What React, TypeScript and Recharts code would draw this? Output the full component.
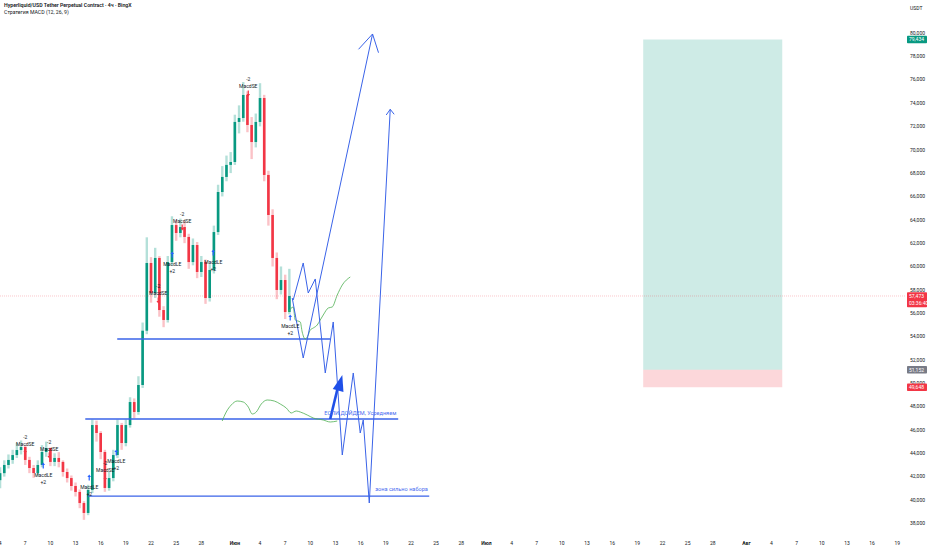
import React from 'react';
import { ComposedChart, XAxis, YAxis, Bar, Line, Scatter, ReferenceLine, ReferenceArea } from 'recharts';

// ---- time axis: x = days since 1 May ----
const candleStart = 3.0;
const candleStep = 0.5;
const firstOpen = 41700;
const closes = [
  42300, 43000, 43430, 43850, 44280, 44540, 43430, 42740, 42310, 43000,
  44110, 44450, 43260, 43600, 43260, 42400, 41880, 41200, 40690, 39740,
  38890, 40860, 46420, 45740, 44110, 41030, 41880, 43850, 46420, 44880,
  46420, 48390, 47540, 49850, 54500, 60300, 57730, 60730, 56270, 55420,
  60380, 63550, 62870, 63380, 62530, 60380, 61840, 59530, 60380, 57300,
  59700, 62950, 66380, 67670, 68700, 68950, 72380, 72720, 74690, 72120,
  70660, 72380, 74430, 67840, 64410, 60730, 57990, 58840, 56100, 57473,
];
const highs = [
  42800, 43400, 43900, 44300, 44900, 45100, 44700, 43700, 43000, 43400,
  44700, 45000, 44500, 44000, 44100, 43400, 42700, 42100, 41500, 40900,
  39900, 41300, 46900, 46800, 45900, 44300, 42400, 44300, 46900, 46600,
  46900, 48800, 48700, 50600, 55200, 62500, 60800, 61600, 60900, 56600,
  60900, 64300, 64000, 64100, 63900, 62800, 62400, 62100, 60900, 60600,
  60200, 63500, 67000, 68600, 69500, 69800, 73000, 73800, 75800, 75000,
  72800, 73100, 75700, 74700, 68200, 64900, 61200, 60000, 59300, 59800,
];
const lows = [
  41000, 42000, 42700, 43100, 43600, 43900, 43000, 42300, 41900, 42100,
  42800, 43700, 42900, 42900, 42800, 42000, 41500, 40800, 40300, 39300,
  38300, 38700, 40600, 45000, 43500, 40700, 40800, 41600, 43600, 44300,
  44600, 46200, 47000, 47300, 49600, 54200, 56900, 57300, 55700, 54800,
  55200, 60100, 62200, 62500, 62000, 59800, 60100, 59000, 59100, 56800,
  57000, 59400, 62700, 66000, 67300, 68000, 68700, 71400, 72400, 71500,
  69200, 70200, 72000, 67300, 63500, 60000, 57200, 57600, 55500, 55900,
];

const candles = closes.map((c, i) => ({
  d: candleStart + i * candleStep,
  open: i === 0 ? firstOpen : closes[i - 1],
  close: c,
  high: highs[i],
  low: lows[i],
}));

// ---- axis ticks ----
const xTickDays = [3, 6, 9, 12, 15, 18, 21, 24, 27, 31, 34, 37, 40, 43, 46, 49, 52, 55, 58, 61, 64, 67, 70, 73, 76, 79, 82, 85, 88, 92, 95, 98, 101, 104, 107, 110];
const xTickLabels = ['4', '7', '10', '13', '16', '19', '22', '25', '28', 'Июн', '4', '7', '10', '13', '16', '19', '22', '25', '28', 'Июл', '4', '7', '10', '13', '16', '19', '22', '25', '28', 'Авг', '4', '7', '10', '13', '16', '19'];
const monthLabels = ['Июн', 'Июл', 'Авг'];
const yTicks = [38000, 40000, 42000, 44000, 46000, 48000, 50000, 52000, 54000, 56000, 58000, 60000, 62000, 64000, 66000, 68000, 70000, 72000, 74000, 76000, 78000, 80000];

// ---- price badges on the axis ----
const currentPrice = 57473;
const takeProfit = 79434;
const entryPrice = 51152;
const stopLoss = 49648;
const countdown = '03:36:40';

// ---- position tool (days) ----
const positionFrom = 79.7;
const positionTo = 96.28;

// ---- strategy signals ----
const signals = [
  { d: 6.0, p: 44280, kind: 'SE' },
  { d: 8.86, p: 43850, kind: 'SE' },
  { d: 8.15, p: 42910, kind: 'LE' },
  { d: 13.63, p: 41880, kind: 'LE' },
  { d: 15.54, p: 41970, kind: 'SE' },
  { d: 16.85, p: 44030, kind: 'LE' },
  { d: 21.86, p: 57130, kind: 'SE' },
  { d: 23.53, p: 60980, kind: 'LE' },
  { d: 24.72, p: 63380, kind: 'SE' },
  { d: 28.42, p: 61150, kind: 'LE' },
  { d: 32.6, p: 74860, kind: 'SE' },
  { d: 37.6, p: 55590, kind: 'LE' },
];

// ---- drawings ----
const levels = [
  { from: 16.97, to: 42.37, p: 53790 },
  { from: 13.16, to: 50.48, p: 46938 },
  { from: 13.51, to: 54.18, p: 40340 },
];
const scenarioA = [
  { d: 37.96, p: 57130 }, { d: 39.15, p: 60300 }, { d: 39.75, p: 57730 }, { d: 40.59, p: 58930 },
  { d: 41.78, p: 50878 }, { d: 42.73, p: 55246 }, { d: 43.81, p: 43854 }, { d: 45.12, p: 50878 },
  { d: 45.95, p: 45739 }, { d: 46.31, p: 46852 }, { d: 47.03, p: 39743 }, { d: 49.53, p: 73463 },
];
const arrowHeadA = [{ d: 49.05, p: 72975 }, { d: 49.53, p: 73463 }, { d: 50.0, p: 73035 }];
const scenarioB = [{ d: 37.84, p: 57301 }, { d: 39.15, p: 52162 }, { d: 47.42, p: 79913 }];
const arrowHeadB = [{ d: 45.75, p: 78603 }, { d: 47.42, p: 79913 }, { d: 48.13, p: 78312 }];
const greenPath1 = [
  { d: 37.37, p: 56102 }, { d: 37.96, p: 56530 }, { d: 38.2, p: 55417 }, { d: 38.8, p: 55246 },
  { d: 39.03, p: 54389 }, { d: 39.39, p: 53790 }, { d: 39.75, p: 54133 }, { d: 39.99, p: 54561 },
  { d: 40.35, p: 54732 }, { d: 40.82, p: 54989 }, { d: 41.18, p: 55417 }, { d: 41.54, p: 55845 },
  { d: 42.14, p: 56445 }, { d: 42.61, p: 56530 }, { d: 43.21, p: 57558 }, { d: 43.81, p: 58415 },
  { d: 44.76, p: 59100 },
];
const greenPath2 = [
  { d: 29.49, p: 46766 }, { d: 29.97, p: 47537 }, { d: 30.57, p: 48137 }, { d: 31.28, p: 48479 },
  { d: 32.0, p: 48394 }, { d: 32.6, p: 47965 }, { d: 33.07, p: 47366 }, { d: 33.55, p: 47537 },
  { d: 34.15, p: 48222 }, { d: 34.86, p: 48565 }, { d: 35.7, p: 48479 }, { d: 36.41, p: 48222 },
  { d: 37.13, p: 47880 }, { d: 37.72, p: 47452 }, { d: 38.32, p: 47623 }, { d: 38.8, p: 47537 },
  { d: 39.63, p: 47280 }, { d: 40.35, p: 47023 }, { d: 41.54, p: 46852 }, { d: 42.37, p: 46681 },
  { d: 43.21, p: 46766 },
];
const boldArrowShaft = [{ d: 42.37, p: 46938 }, { d: 43.3, p: 49700 }];
const boldArrowTip = [{ d: 43.81, p: 50706 }];
const notes = [
  { d: 41.66, p: 47280, text: 'ЕСЛИ ДОЙДЕМ, Усредняем' },
  { d: 47.74, p: 40771, text: 'зона сильно набора' },
];

const BLUE = '#3a63e8';
const UP = '#089981';
const DOWN = '#f23645';
const TXT = '#131722';
const FONT = 'Roboto, "Noto Sans", sans-serif';

const Candle = (props: any) => {
  const { x, y, width, height, payload } = props;
  if (x == null || y == null) return null;
  const { open, close, high, low } = payload;
  const ratio = high === low ? 0 : height / (high - low);
  const yo = y + (high - open) * ratio;
  const yc = y + (high - close) * ratio;
  const up = close >= open;
  const col = up ? UP : DOWN;
  const cx = x + width / 2;
  const top = Math.min(yo, yc);
  const h = Math.max(1, Math.abs(yo - yc));
  return (
    <g>
      <line x1={cx} x2={cx} y1={y} y2={y + height} stroke={col} strokeOpacity={0.3} strokeWidth={2.4} />
      <rect x={cx - 1.3} y={top} width={2.6} height={h} fill={col} />
    </g>
  );
};

const SignalShape = (props: any) => {
  const { cx, cy, payload } = props;
  if (cx == null) return null;
  const t = { fontSize: 5, fill: TXT, textAnchor: 'middle' as const, fontFamily: FONT };
  if (payload.kind === 'SE') {
    return (
      <g>
        <text x={cx} y={cy - 11.5} {...t}>-2</text>
        <text x={cx} y={cy - 4.5} {...t}>MacdSE</text>
        <line x1={cx} x2={cx} y1={cy - 2.5} y2={cy + 1.5} stroke={DOWN} strokeWidth={1.2} />
        <path d={`M${cx - 1.8},${cy + 1} L${cx + 1.8},${cy + 1} L${cx},${cy + 3.5} Z`} fill={DOWN} />
      </g>
    );
  }
  return (
    <g>
      <line x1={cx} x2={cx} y1={cy - 1.5} y2={cy + 2.5} stroke="#2962ff" strokeWidth={1.2} />
      <path d={`M${cx - 1.8},${cy - 1} L${cx + 1.8},${cy - 1} L${cx},${cy - 3.5} Z`} fill="#2962ff" />
      <text x={cx} y={cy + 10.5} {...t}>MacdLE</text>
      <text x={cx} y={cy + 17.5} {...t}>+2</text>
    </g>
  );
};

const NoteShape = (props: any) => {
  const { cx, cy, payload } = props;
  if (cx == null) return null;
  return (
    <text x={cx} y={cy} fontSize={5.6} fill="#4a6cf0" fontFamily={FONT}>{payload.text}</text>
  );
};

const TipShape = (props: any) => {
  const { cx, cy } = props;
  if (cx == null) return null;
  return <path d={`M${cx},${cy} L${cx + 1.2},${cy + 17} L${cx - 9.5},${cy + 14} Z`} fill="#1f4fe8" />;
};

const XTick = (props: any) => {
  const { x, y, payload } = props;
  const i = xTickDays.indexOf(payload.value);
  const label = i >= 0 ? xTickLabels[i] : '';
  const bold = monthLabels.includes(label);
  return (
    <text x={x} y={y} dy={4} fontSize={5} fill={TXT} textAnchor="middle" fontWeight={bold ? 700 : 400} fontFamily={FONT}>
      {label}
    </text>
  );
};

const badges: Record<number, { color: string; sub?: string }> = {
  [takeProfit]: { color: UP },
  [currentPrice]: { color: DOWN, sub: countdown },
  [entryPrice]: { color: '#787b86' },
  [stopLoss]: { color: DOWN },
};

const YTick = (props: any) => {
  const { x, y, payload } = props;
  const v = payload.value as number;
  const txt = v.toLocaleString('en-US');
  const b = badges[v];
  if (b) {
    const h = b.sub ? 15 : 7.5;
    return (
      <g>
        <rect x={x - 3} y={y - 3.75} width={20} height={h} fill={b.color} rx={0.8} />
        <text x={x - 1} y={y + 1.8} fontSize={5} fill="#fff" fontFamily={FONT}>{txt}</text>
        {b.sub && <text x={x - 1} y={y + 9} fontSize={5} fill="#fff" fontFamily={FONT}>{b.sub}</text>}
      </g>
    );
  }
  return (
    <text x={x} y={y + 1.8} fontSize={5} fill={TXT} fontFamily={FONT}>{txt}</text>
  );
};

export default function App() {
  return (
    <div style={{ position: 'absolute', left: 0, top: 0, width: 932, height: 550, background: '#fff', fontFamily: FONT }}>
      <div style={{ position: 'absolute', left: 4, top: 2, fontSize: 5.2, color: TXT, lineHeight: '7px', zIndex: 2 }}>
        <div style={{ fontWeight: 600 }}>Hyperliquid/USD Tether Perpetual Contract · 4ч · BingX</div>
        <div>Стратегия MACD (12, 26, 9)</div>
      </div>
      <div style={{ position: 'absolute', left: 910, top: 5, fontSize: 5, color: TXT, zIndex: 2 }}>USDT</div>
      <ComposedChart width={932} height={550} data={candles} margin={{ top: 0, right: 0, bottom: 0, left: 0 }}>
        <XAxis
          dataKey="d"
          type="number"
          domain={[2.99, 110.92]}
          allowDataOverflow
          ticks={xTickDays}
          interval={0}
          tick={<XTick />}
          tickLine={false}
          axisLine={false}
          tickSize={0}
          tickMargin={6}
          height={15}
        />
        <YAxis
          orientation="right"
          type="number"
          domain={[37002, 82825]}
          allowDataOverflow
          ticks={[...yTicks, takeProfit, currentPrice, entryPrice, stopLoss]}
          interval={0}
          tick={<YTick />}
          tickLine={false}
          axisLine={false}
          tickSize={0}
          tickMargin={5}
          width={27}
        />
        <ReferenceArea x1={positionFrom} x2={positionTo} y1={entryPrice} y2={takeProfit} fill="#089981" fillOpacity={0.2} stroke="none" ifOverflow="visible" />
        <ReferenceArea x1={positionFrom} x2={positionTo} y1={stopLoss} y2={entryPrice} fill="#f23645" fillOpacity={0.2} stroke="none" ifOverflow="visible" />
        <ReferenceLine y={currentPrice} stroke={DOWN} strokeOpacity={0.35} strokeWidth={0.8} strokeDasharray="1 1" />
        <Bar dataKey={(c: any) => [c.low, c.high]} barSize={3} shape={<Candle />} isAnimationActive={false} />
        {levels.map((l, i) => (
          <ReferenceLine key={i} segment={[{ x: l.from, y: l.p }, { x: l.to, y: l.p }]} stroke={BLUE} strokeWidth={1.3} ifOverflow="visible" />
        ))}
        <Line data={greenPath2} dataKey="p" type="monotone" stroke="#4caf50" strokeWidth={0.8} dot={false} activeDot={false} isAnimationActive={false} />
        <Line data={greenPath1} dataKey="p" type="monotone" stroke="#4caf50" strokeWidth={0.8} dot={false} activeDot={false} isAnimationActive={false} />
        <Line data={scenarioA} dataKey="p" type="linear" stroke={BLUE} strokeWidth={1} dot={false} activeDot={false} isAnimationActive={false} />
        <Line data={arrowHeadA} dataKey="p" type="linear" stroke={BLUE} strokeWidth={1} dot={false} activeDot={false} isAnimationActive={false} />
        <Line data={scenarioB} dataKey="p" type="linear" stroke={BLUE} strokeWidth={1} dot={false} activeDot={false} isAnimationActive={false} />
        <Line data={arrowHeadB} dataKey="p" type="linear" stroke={BLUE} strokeWidth={1} dot={false} activeDot={false} isAnimationActive={false} />
        <Line data={boldArrowShaft} dataKey="p" type="linear" stroke="#1f4fe8" strokeWidth={2.6} dot={false} activeDot={false} isAnimationActive={false} />
        <Scatter data={boldArrowTip} dataKey="p" shape={<TipShape />} isAnimationActive={false} />
        <Scatter data={signals} dataKey="p" shape={<SignalShape />} isAnimationActive={false} />
        <Scatter data={notes} dataKey="p" shape={<NoteShape />} isAnimationActive={false} />
      </ComposedChart>
    </div>
  );
}
